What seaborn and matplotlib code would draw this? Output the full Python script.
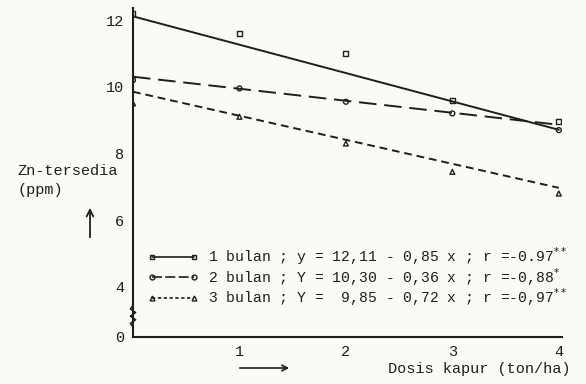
import numpy as np
import pandas as pd
import matplotlib
matplotlib.use("Agg")
import matplotlib.pyplot as plt
from matplotlib.lines import Line2D
import seaborn as sns

# --- Data ---
DOSIS = [0, 1, 2, 3, 4]                      # ton/ha
ZN_1_BULAN = [12.2, 11.6, 11.0, 9.6, 8.95]   # ppm, observed
ZN_2_BULAN = [10.2, 9.95, 9.55, 9.2, 8.7]
ZN_3_BULAN = [9.5, 9.1, 8.3, 7.45, 6.8]

SERIES = ["1 bulan", "2 bulan", "3 bulan"]
INTERCEPT = [12.11, 10.30, 9.85]
SLOPE = [-0.85, -0.36, -0.72]
LABELS = [
    "1 bulan ; y = 12,11 - 0,85 x ; r =-0.97$^{**}$",
    "2 bulan ; Y = 10,30 - 0,36 x ; r =-0,88$^{*}$",
    "3 bulan ; Y =  9,85 - 0,72 x ; r =-0,97$^{**}$",
]
Y_TICKS = [12, 10, 8, 6, 4]
Y_ZERO_POS = 2.5          # broken axis: "0" is drawn here

# --- Style ---
INK = "#1e1e1e"
PAPER = "#fbfaf5"
MONO = "Liberation Mono"
sns.set_style("white")
plt.rcParams["font.family"] = [MONO, "DejaVu Sans Mono"]

STYLES = [
    dict(dashes=(None, None), marker="s", ms=3.5),
    dict(dashes=(9, 4), marker="o", ms=3.5),
    dict(dashes=(4, 2.5), marker="^", ms=3.5),
]


def main():
    fig = plt.figure(figsize=(5.86, 3.84), dpi=100, facecolor=PAPER)
    ax = fig.add_axes([133 / 586, 1 - 337 / 384, (562 - 133) / 586, (337 - 8) / 384])
    ax.set_facecolor(PAPER)

    obs = pd.DataFrame({
        "dosis": DOSIS * 3,
        "zn": ZN_1_BULAN + ZN_2_BULAN + ZN_3_BULAN,
        "seri": np.repeat(SERIES, len(DOSIS)),
    })
    x = np.array(DOSIS, dtype=float)

    handles = []
    for i, name in enumerate(SERIES):
        st = STYLES[i]
        fit = INTERCEPT[i] + SLOPE[i] * x
        line = sns.lineplot(x=x, y=fit, color=INK, lw=1.4, ax=ax)
        ln = line.lines[-1]
        if st["dashes"][0] is not None:
            ln.set_dashes(st["dashes"])
        sub = obs[obs["seri"] == name]
        sns.scatterplot(data=sub, x="dosis", y="zn", marker=st["marker"],
                        s=st["ms"] ** 2, facecolor="none", edgecolor=INK,
                        linewidth=1.0, ax=ax, zorder=5)
        h = Line2D([0], [0], color=INK, lw=1.2, marker=st["marker"], ms=st["ms"],
                   mfc="none", mec=INK)
        if st["dashes"][0] is not None:
            h.set_dashes((2, 1.5) if i == 2 else (6, 2))
        handles.append(h)

    ax.set_xlim(0, 4.03)
    ax.set_ylim(Y_ZERO_POS, 12.36)
    ax.set_xticks([1, 2, 3, 4])
    ax.set_xticklabels(["1", "2", "3", "4"])
    ax.set_yticks(Y_TICKS + [Y_ZERO_POS])
    ax.set_yticklabels([str(t) for t in Y_TICKS] + ["0"])
    ax.tick_params(axis="both", direction="inout", length=5, width=1.2,
                   colors=INK, labelsize=11)
    ax.tick_params(axis="x", pad=3)
    ax.tick_params(axis="y", pad=4)
    ax.set_xlabel("")
    ax.set_ylabel("")
    sns.despine(ax=ax)
    for side in ("left", "bottom"):
        ax.spines[side].set_color(INK)
        ax.spines[side].set_linewidth(1.5)

    # zigzag break on the y axis
    zy = np.linspace(2.8, 3.45, 7)
    zx = np.array([0, -0.025, 0.025, -0.025, 0.025, -0.025, 0])
    ax.plot(zx, zy, color=INK, lw=1.1, clip_on=False, zorder=6)

    leg = ax.legend(handles, LABELS, loc="upper left", frameon=False,
                    bbox_to_anchor=(148 / 586, 1 - 245 / 384),
                    bbox_transform=fig.transFigure, borderpad=0, borderaxespad=0,
                    handlelength=3.4, handletextpad=0.7, labelspacing=-0.06,
                    numpoints=2, prop={"family": MONO, "size": 10.6})
    for t in leg.get_texts():
        t.set_color(INK)

    # axis titles, typewriter style
    fig.text(17 / 586, 1 - 171 / 384, "Zn-tersedia", fontsize=11, color=INK,
             va="center", ha="left")
    fig.text(17 / 586, 1 - 190 / 384, "(ppm)", fontsize=11, color=INK,
             va="center", ha="left")
    fig.add_artist(matplotlib.patches.FancyArrowPatch(
        (90 / 586, 1 - 240 / 384), (90 / 586, 1 - 205 / 384),
        transform=fig.transFigure, arrowstyle="->", mutation_scale=12,
        color=INK, lw=1.3))
    fig.add_artist(matplotlib.patches.FancyArrowPatch(
        (237 / 586, 1 - 368 / 384), (292 / 586, 1 - 368 / 384),
        transform=fig.transFigure, arrowstyle="->", mutation_scale=10,
        color=INK, lw=1.2))
    fig.text(388 / 586, 1 - 369 / 384, "Dosis kapur (ton/ha)", fontsize=11,
             color=INK, va="center", ha="left")

    fig.savefig("out.png", dpi=100, facecolor=PAPER)
    plt.close(fig)


if __name__ == "__main__":
    main()
